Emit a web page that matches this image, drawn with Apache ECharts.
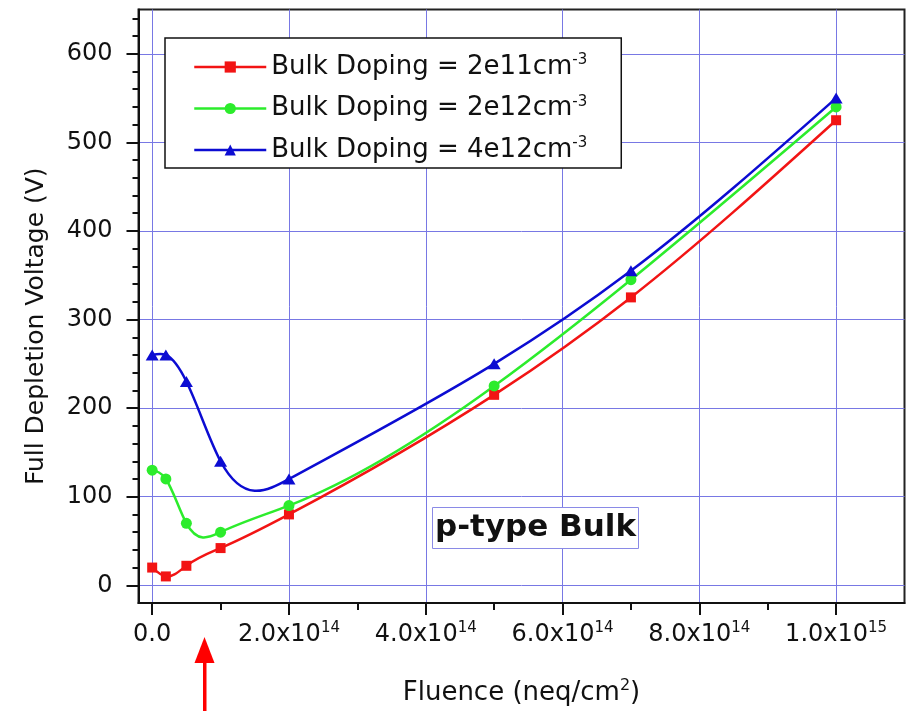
<!DOCTYPE html>
<html><head><meta charset="utf-8">
<script src="https://cdn.jsdelivr.net/npm/echarts@6/dist/echarts.min.js"></script>
<style>html,body{margin:0;padding:0;background:#fff}#c{width:911px;height:711px}</style>
</head><body><div id="c"></div><script>
// ---- data ----
const fluence = [0, 2e13, 5e13, 1e14, 2e14, 5e14, 7e14, 1e15];
const vDoping2e11 = [20, 10, 22, 42, 80, 215, 325, 525];
const vDoping2e12 = [130, 120, 70, 60, 90, 225, 345, 540];
const vDoping4e12 = [260, 260, 230, 140, 120, 250, 355, 550];
const seriesNames = ['Bulk Doping = 2e11cm-3', 'Bulk Doping = 2e12cm-3', 'Bulk Doping = 4e12cm-3'];
const xMajorTicks = [0, 2e14, 4e14, 6e14, 8e14, 1e15];
const xMinorTicks = [1e14, 3e14, 5e14, 7e14, 9e14];
const yMajorTicks = [0, 100, 200, 300, 400, 500, 600];
const yMinorTicks = [20, 40, 60, 80, 120, 140, 160, 180, 220, 240, 260, 280, 320, 340, 360, 380,
                     420, 440, 460, 480, 520, 540, 560, 580, 620, 640];
const xRange = [-2e13, 1.1e15];
const yRange = [-20, 650];
const annotationText = 'p-type Bulk';

const FF = '"DejaVu Sans", sans-serif';
const GRID = '#7878e4';
const colors = ['#f21414', '#2cec2c', '#0c0cd2'];
const symbols = ['rect', 'circle', 'triangle'];
const symSizes = [10, 11, [13, 11]];
const values = [vDoping2e11, vDoping2e12, vDoping4e12];

function xFmt(v) {
  if (v === 0) return '{b|0.0}';
  const e = Math.floor(Math.log10(v) + 1e-9);
  const m = (v / Math.pow(10, e)).toFixed(1);
  return '{b|' + m + 'x10}{s|' + e + '}';
}

// natural cubic spline through pixel points, expressed as bezier segments
function splineSegments(pts) {
  const n = pts.length;
  const h = [], M = new Array(n).fill(0);
  for (let i = 0; i < n - 1; i++) h.push(pts[i + 1][0] - pts[i][0]);
  // tridiagonal solve for interior second derivatives
  const a = [], b = [], c = [], r = [];
  for (let i = 1; i < n - 1; i++) {
    a.push(h[i - 1]); b.push(2 * (h[i - 1] + h[i])); c.push(h[i]);
    r.push(6 * ((pts[i + 1][1] - pts[i][1]) / h[i] - (pts[i][1] - pts[i - 1][1]) / h[i - 1]));
  }
  const m = b.length;
  for (let i = 1; i < m; i++) {
    const w = a[i] / b[i - 1];
    b[i] -= w * c[i - 1]; r[i] -= w * r[i - 1];
  }
  const sol = new Array(m);
  for (let i = m - 1; i >= 0; i--) sol[i] = (r[i] - (i < m - 1 ? c[i] * sol[i + 1] : 0)) / b[i];
  for (let i = 0; i < m; i++) M[i + 1] = sol[i];
  const segs = [];
  for (let i = 0; i < n - 1; i++) {
    const hi = h[i], s = (pts[i + 1][1] - pts[i][1]) / hi;
    const d0 = s - hi * (2 * M[i] + M[i + 1]) / 6;
    const d1 = s + hi * (M[i] + 2 * M[i + 1]) / 6;
    segs.push({
      x1: pts[i][0], y1: pts[i][1],
      cpx1: pts[i][0] + hi / 3, cpy1: pts[i][1] + d0 * hi / 3,
      cpx2: pts[i + 1][0] - hi / 3, cpy2: pts[i + 1][1] - d1 * hi / 3,
      x2: pts[i + 1][0], y2: pts[i + 1][1]
    });
  }
  return segs;
}

const chart = echarts.init(document.getElementById('c'), null, {renderer: 'canvas'});
const grid = {left: 138.5, top: 9.5, right: 6.5, bottom: 106, show: true, borderColor: '#222', borderWidth: 2, backgroundColor: '#fff'};

const xBase = {type: 'value', gridIndex: 0, min: xRange[0], max: xRange[1], position: 'bottom'};
const yBase = {type: 'value', gridIndex: 0, min: yRange[0], max: yRange[1], position: 'left'};

const curveSeries = values.map(function (vals, i) {
  return {
    name: 'curve' + i, type: 'custom', xAxisIndex: 0, yAxisIndex: 0, z: 2,
    data: fluence.map(function (f, k) { return [f, vals[k]]; }),
    renderItem: function (params, api) {
      if (params.dataIndex !== 0) return null;
      const pts = fluence.map(function (f, k) { return api.coord([f, vals[k]]); });
      const segs = splineSegments(pts);
      return {
        type: 'group',
        children: segs.map(function (s) {
          return {type: 'bezierCurve', shape: s, style: {stroke: colors[i], lineWidth: 2.5, fill: null}};
        })
      };
    },
    silent: true
  };
});

const markerSeries = seriesNames.map(function (name, i) {
  return {
    name: name, type: 'line', xAxisIndex: 0, yAxisIndex: 0,
    symbol: symbols[i], symbolSize: symSizes[i],
    showAllSymbol: true,
    lineStyle: {color: colors[i], width: 2.5, opacity: 0},
    itemStyle: {color: colors[i]},
    data: values[i].map(function (v, k) { return [fluence[k], v]; }),
    z: 3 + i
  };
});

const option = {
  animation: false,
  backgroundColor: '#fff',
  grid: grid,
  xAxis: [
    Object.assign({}, xBase, {
      name: '{t|Fluence (neq/cm}{s|2}{t|)}',
      nameLocation: 'middle', nameGap: 75,
      nameTextStyle: {rich: {t: {fontFamily: FF, fontSize: 26, color: '#111', lineHeight: 30}, s: {fontFamily: FF, fontSize: 16, color: '#111', verticalAlign: 'top', lineHeight: 16}}},
      axisLine: {show: true, onZero: false, lineStyle: {color: '#111', width: 2}},
      axisTick: {show: true, inside: false, length: 12, customValues: xMajorTicks, lineStyle: {color: '#111', width: 2}},
      axisLabel: {show: true, customValues: xMajorTicks, margin: 18, formatter: xFmt,
        rich: {b: {fontFamily: FF, fontSize: 24, color: '#111', lineHeight: 28}, s: {fontFamily: FF, fontSize: 15, color: '#111', verticalAlign: 'top', lineHeight: 16}}},
      splitLine: {show: true, lineStyle: {color: GRID, width: 1}}
    }),
    Object.assign({}, xBase, {
      axisLine: {show: false, onZero: false},
      axisTick: {show: true, inside: false, length: 7, customValues: xMinorTicks, lineStyle: {color: '#111', width: 2}},
      axisLabel: {show: false},
      splitLine: {show: false}
    })
  ],
  yAxis: [
    Object.assign({}, yBase, {
      name: 'Full Depletion Voltage (V)',
      nameLocation: 'middle', nameGap: 90,
      nameTextStyle: {fontFamily: FF, fontSize: 25, color: '#111', padding: [0, 40, 0, 0]},
      axisLine: {show: true, onZero: false, lineStyle: {color: '#111', width: 2}},
      axisTick: {show: true, inside: false, length: 12, customValues: yMajorTicks, lineStyle: {color: '#111', width: 2}},
      axisLabel: {show: true, customValues: yMajorTicks, margin: 26, fontFamily: FF, fontSize: 24, color: '#111'},
      splitLine: {show: true, lineStyle: {color: GRID, width: 1}}
    }),
    Object.assign({}, yBase, {
      axisLine: {show: false, onZero: false},
      axisTick: {show: true, inside: false, length: 6, customValues: yMinorTicks, lineStyle: {color: '#111', width: 2}},
      axisLabel: {show: false},
      splitLine: {show: false}
    })
  ],
  legend: {
    orient: 'vertical', left: 165, top: 38,
    padding: [15, 34, 5, 28], itemGap: 14.5, itemWidth: 72, itemHeight: 14,
    backgroundColor: '#fff', borderColor: '#111', borderWidth: 1.5,
    data: seriesNames.map(function (n, i) {
      return {name: n, lineStyle: {color: colors[i], width: 2.5, opacity: 1}};
    }),
    formatter: function (n) { return '{t|' + n.replace(/-3$/, '') + '}{s|-3}'; },
    textStyle: {rich: {t: {fontFamily: FF, fontSize: 26, color: '#111', lineHeight: 28}, s: {fontFamily: FF, fontSize: 15, color: '#111', verticalAlign: 'top', lineHeight: 14}}}
  },
  title: {
    text: annotationText, left: 432, top: 507,
    padding: [5, 3, 6, 3],
    borderColor: '#8a8ae6', borderWidth: 1, backgroundColor: '#fff',
    textStyle: {fontFamily: FF, fontSize: 31, fontWeight: 'bold', color: '#111'}
  },
  graphic: [
    {type: 'rect', shape: {x: 203, y: 660, width: 3.5, height: 51}, style: {fill: '#ff0000'}},
    {type: 'polygon', shape: {points: [[194.5, 663], [214.5, 663], [204.5, 637]]}, style: {fill: '#ff0000'}}
  ],
  series: curveSeries.concat(markerSeries)
};
chart.setOption(option);
</script></body></html>
